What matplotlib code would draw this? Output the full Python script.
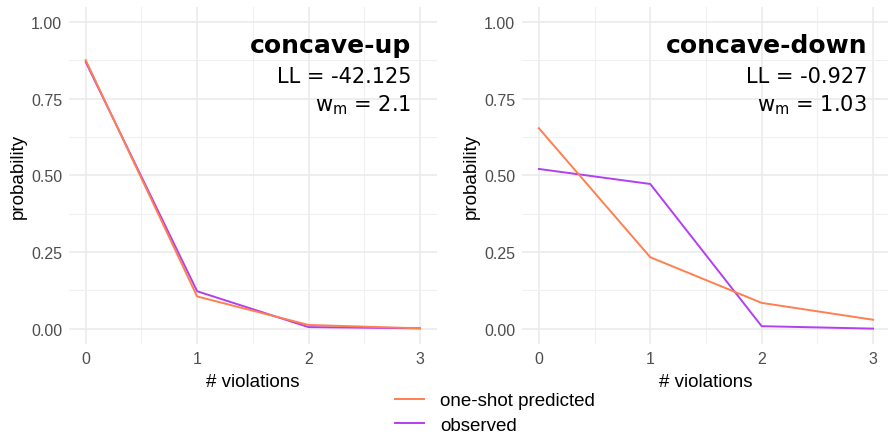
import matplotlib.pyplot as plt
from matplotlib.lines import Line2D
import numpy as np

violations = [0, 1, 2, 3]

up_predicted = [0.876, 0.105, 0.012, 0.001]
up_observed = [0.870, 0.122, 0.005, 0.001]
down_predicted = [0.654, 0.233, 0.084, 0.029]
down_observed = [0.521, 0.472, 0.008, 0.0]

titles = ["concave-up", "concave-down"]
ll_values = ["-42.125", "-0.927"]
wm_values = ["2.1", "1.03"]

c_pred = "#FF7F50"
c_obs = "#B23FF0"

plt.rcParams['font.family'] = ['Liberation Sans', 'DejaVu Sans']

fig = plt.figure(figsize=(8.88, 4.35), dpi=100)
ax1 = fig.add_axes([0.0777, 0.207, 0.414, 0.775])
ax2 = fig.add_axes([0.588, 0.207, 0.414, 0.775])

panels = [(ax1, up_predicted, up_observed, 2.92),
          (ax2, down_predicted, down_observed, 2.946)]

for i, (ax, pred, obs, tx) in enumerate(panels):
    ax.plot(violations, obs, color=c_obs, lw=1.4, zorder=3)
    ax.plot(violations, pred, color=c_pred, lw=1.4, zorder=3)

    ax.set_xlim(-0.15, 3.15)
    ax.set_ylim(-0.05, 1.05)
    ax.set_xticks(violations)
    ax.set_yticks([0, 0.25, 0.5, 0.75, 1.0])
    ax.set_yticklabels(["0.00", "0.25", "0.50", "0.75", "1.00"])
    ax.set_xticks([0.5, 1.5, 2.5], minor=True)
    ax.set_yticks([0.125, 0.375, 0.625, 0.875], minor=True)
    ax.grid(which='major', color='#EBEBEB', lw=1.2)
    ax.grid(which='minor', color='#F0F0F0', lw=0.8)
    ax.set_axisbelow(True)
    for s in ax.spines.values():
        s.set_visible(False)
    ax.tick_params(which='both', length=0, labelsize=11.5, labelcolor='#4D4D4D', pad=5)
    ax.set_xlabel("# violations", fontsize=13.5, labelpad=5)
    ax.set_ylabel("probability", fontsize=13.5, labelpad=3)

    ax.text(tx, 0.902, titles[i], ha='right', va='baseline', fontsize=18,
            fontweight='bold', family='DejaVu Sans')
    ax.text(tx, 0.805, "LL = " + ll_values[i], ha='right', va='baseline',
            fontsize=15, family='DejaVu Sans')
    ax.text(tx, 0.713, r"w$_\mathrm{m}$ = " + wm_values[i], ha='right',
            va='baseline', fontsize=15, family='DejaVu Sans')

handles = [Line2D([], [], color=c_pred, lw=1.4),
           Line2D([], [], color=c_obs, lw=1.4)]
fig.legend(handles, ["one-shot predicted", "observed"], loc='upper left',
           bbox_to_anchor=(395 / 888, 1 - 393 / 435), frameon=False,
           fontsize=13.5, handlelength=1.55, handletextpad=0.85,
           labelspacing=0.39, borderpad=0, borderaxespad=0)

fig.savefig("out.png", dpi=100)
